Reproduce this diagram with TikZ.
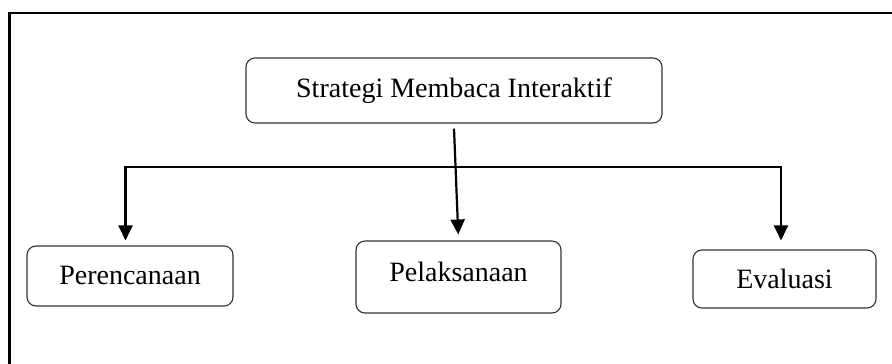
\documentclass[tikz,border=0pt]{standalone}
\usepackage{fontspec}
\setmainfont{Liberation Serif}
\usetikzlibrary{arrows.meta}
\begin{document}
\begin{tikzpicture}[x=1pt,y=-1pt,
 box/.style={draw=black!80, line width=1.1pt, rounded corners=9pt, inner sep=0pt,
   font=\fontsize{28}{33}\selectfont, text height=19pt},
 arr/.style={line width=2.2pt, -{Triangle[length=15pt,width=14pt]}},
 link/.style={line width=1.3pt, line cap=rect}]
\useasboundingbox (0,0) rectangle (892,364);
\draw[line width=2.5pt] (9.5,364) -- (9.5,13) -- (892,13);
\node[box, minimum width=416pt, minimum height=65pt, text depth=5pt] (top) at (454,90.5) {Strategi Membaca Interaktif};
\node[box, minimum width=206pt, minimum height=60pt, text depth=3pt] (per) at (130,276) {Perencanaan};
\node[box, minimum width=205pt, minimum height=72pt, text depth=11pt] (pel) at (458.5,277) {Pelaksanaan};
\node[box, minimum width=183pt, minimum height=58pt, text depth=0pt] (eva) at (784.5,279) {Evaluasi};
\coordinate (hl) at (125.5,167);
\coordinate (hr) at (781,167);
\draw[link] (hl) -- (hr);
\draw[arr, shorten >=5pt] ([yshift=0.7pt]hl) -- (hl |- per.north);
\draw[arr, shorten >=9pt] ([yshift=0.7pt]hr) -- (hr |- eva.north);
\draw[arr, shorten >=6pt] ([yshift=-5pt]top.south) -- (pel.north);
\end{tikzpicture}
\end{document}
